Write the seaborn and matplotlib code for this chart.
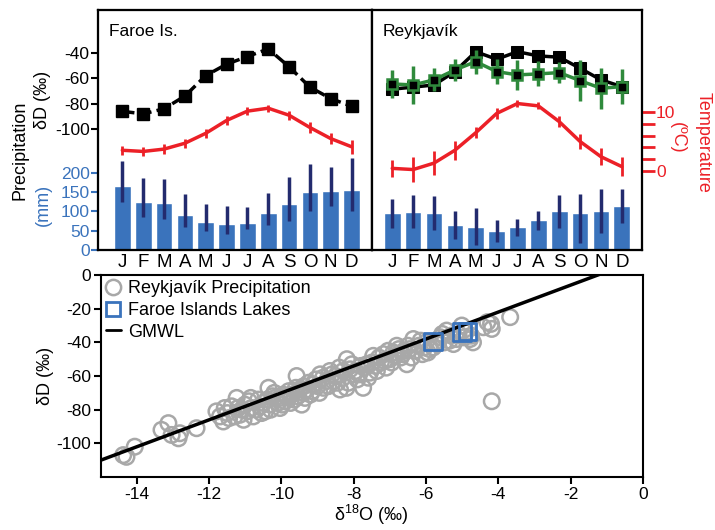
import numpy as np
import matplotlib
matplotlib.use('Agg')
import matplotlib.pyplot as plt
import seaborn as sns
from matplotlib.lines import Line2D

sns.set_theme(style='ticks')
plt.rcParams['font.family'] = ['Liberation Sans', 'DejaVu Sans']
plt.rcParams['axes.linewidth'] = 1.5
plt.rcParams['axes.unicode_minus'] = False
plt.rcParams['text.color'] = 'black'
plt.rcParams['axes.labelcolor'] = 'black'
plt.rcParams['xtick.color'] = 'black'
plt.rcParams['ytick.color'] = 'black'

# ---- data ----
months = ['J', 'F', 'M', 'A', 'M', 'J', 'J', 'A', 'S', 'O', 'N', 'D']
idx = np.arange(12)

faroe_dD = [-86, -88, -84, -74, -58, -49, -43, -37, -51, -67, -76, -82]
faroe_temp = [3.5, 3.3, 3.7, 4.7, 6.4, 8.6, 10.2, 10.7, 9.5, 7.4, 5.5, 4.1]
faroe_temp_err = [0.8, 0.8, 0.8, 0.8, 0.8, 0.8, 0.7, 0.6, 0.8, 0.9, 1.0, 1.2]
faroe_prcp = [166, 125, 122, 90, 73, 67, 71, 96, 120, 150, 152, 155]
faroe_prcp_lo = [125, 86, 80, 60, 49, 43, 54, 65, 76, 101, 115, 101]
faroe_prcp_hi = [230, 186, 184, 144, 119, 115, 112, 148, 188, 223, 215, 238]

rvk_dD = [-68.6, -67, -65.3, -54.8, -39.2, -45.1, -39.2, -42.5, -43.5, -52.2, -61.3, -66.6]
rvk_dD2 = [-64.5, -65.3, -61.3, -53.5, -47, -54.8, -57.4, -56.6, -55.6, -61.9, -67.9, -66.6]
rvk_dD2_err = [11, 14.6, 9, 8.5, 9.4, 9.8, 11.8, 9.8, 8.5, 16, 16.3, 13.6]
rvk_temp = [0.4, 0.2, 1.3, 3.5, 6.5, 9.8, 11.5, 11.1, 8.4, 5.0, 2.4, 0.7]
rvk_temp_err = [1.5, 2.1, 2.0, 1.6, 0.9, 1.0, 0.6, 0.6, 1.0, 1.2, 1.5, 1.6]
rvk_prcp = [96, 99, 96, 65, 60, 50, 60, 78, 102, 96, 102, 114]
rvk_prcp_lo = [56, 56, 52, 28, 13, 21, 36, 52, 56, 19, 45, 71]
rvk_prcp_hi = [131, 142, 140, 101, 108, 78, 80, 101, 142, 146, 157, 158]

rvk_d18O = [-14.38, -14.29, -14.06, -13.32, -13.13, -13.04, -12.85, -12.81, -12.35,
            -11.80, -11.61, -11.57, -11.5, -11.38, -11.3, -11.24, -11.15, -11.1, -11.01,
            -10.9, -10.83, -10.78, -10.7, -10.64, -10.5, -10.45, -10.36, -10.32, -10.25,
            -10.18, -10.1, -10.04, -9.95, -9.90, -9.8, -9.72, -9.65, -9.58, -9.5, -9.44,
            -9.38, -9.30, -9.2, -9.12, -9.05, -8.93, -8.84, -8.75, -8.66, -8.56, -8.5,
            -8.38, -8.29, -8.2, -8.19, -8.1, -8.01, -7.9, -7.8, -7.74, -7.64, -7.55,
            -7.46, -7.36, -7.25, -7.18, -7.1, -7.0, -6.9, -6.81, -6.7, -6.6, -6.53,
            -6.45, -6.35, -6.2, -6.1, -6.0, -5.9, -5.80, -5.6, -5.5, -5.43, -5.3,
            -5.24, -5.15, -5.01, -4.9, -4.78, -4.75, -4.41, -4.3, -4.18, -4.2, -3.67,
            -4.18,
            -11.7, -11.45, -11.2, -11.05, -10.95, -10.85, -10.6, -10.55, -10.4, -10.3,
            -10.2, -10.05, -9.98, -9.85, -9.75, -9.6, -9.55, -9.4, -9.35, -9.25,
            -9.15, -9.0, -8.95, -8.85, -8.7, -8.6, -8.45, -8.4, -8.3, -8.15,
            -8.05, -7.95, -7.85, -7.7, -7.6, -7.5, -7.4, -7.3, -7.15, -7.05,
            -6.95, -6.85, -6.75, -6.65, -6.5, -6.4, -6.3, -6.15, -6.05, -5.95,
            -5.7, -5.55, -5.35, -5.1, -4.95, -4.7]
rvk_dD_pts = [-107, -108, -102, -92, -88, -95, -97, -94, -91,
              -81, -87, -79, -82, -78, -84, -73, -83, -80, -77,
              -75, -79, -84, -80, -74, -76, -81, -67, -77, -72,
              -73, -76, -79, -71, -75, -69, -71, -74, -60, -68, -77,
              -66, -68, -71, -65, -62, -59, -67, -63, -57, -63, -60,
              -68, -57, -67, -50, -56, -59, -62, -54, -67, -53, -58,
              -48, -57, -52, -47, -55, -50, -46, -42, -49, -45, -53,
              -44, -38, -42, -47, -40, -44, -43, -37, -40, -33, -36,
              -41, -38, -30, -34, -38, -36, -31, -28, -32, -29, -25,
              -75,
              -84, -85, -79, -86, -81, -73, -78, -82, -74, -80,
              -70, -73, -77, -72, -76, -67, -72, -70, -73, -64,
              -69, -66, -70, -61, -66, -59, -64, -55, -61, -64,
              -53, -57, -59, -55, -61, -52, -54, -49, -51, -45,
              -52, -48, -44, -47, -42, -49, -45, -39, -43, -46,
              -41, -35, -39, -35, -37, -40]

lake_d18O = [-5.8, -5.0, -4.85]
lake_dD = [-39.5, -34.0, -33.5]

gmwl_x = [-15, 0]
gmwl_y = [-110, 10]

red = '#ec2027'
blue = '#3a73bc'
navy = '#232b6e'
green = '#2f8a3c'
gray = '#a8a8a8'

fig = plt.figure(figsize=(7.15, 5.3), dpi=100)


def top_panel(rect, xlim, prcp, lo, hi, temp, terr, title, left):
    ax_p = fig.add_axes(rect)
    sns.barplot(x=idx, y=prcp, ax=ax_p, color=blue, saturation=1, width=0.8,
                errorbar=None, native_scale=True)
    ax_p.vlines(idx, lo, hi, color=navy, lw=2.5, zorder=3)
    ax_p.set_ylim(0, 620)
    ax_p.set_xlim(*xlim)
    ax_p.set_xticks(idx)
    ax_p.set_xticklabels(months, fontsize=13.5)
    ax_p.tick_params(axis='x', length=0, pad=3)
    ax_p.set_xlabel('')
    ax_p.set_ylabel('')
    if left:
        ax_p.set_yticks([0, 50, 100, 150, 200])
        ax_p.tick_params(axis='y', colors=blue, labelsize=12.5, length=5, width=1.5, pad=1)
    else:
        ax_p.set_yticks([])

    ax_d = ax_p.twinx()
    ax_d.yaxis.tick_left()
    ax_d.set_ylim(-195, -6.5)
    if left:
        ax_d.set_yticks([-100, -80, -60, -40])
        ax_d.tick_params(axis='y', labelsize=12.5, length=5, width=1.5, pad=1)
    else:
        ax_d.set_yticks([])

    ax_t = ax_p.twinx()
    ax_t.set_ylim(-13.6, 27.5)
    ax_t.errorbar(idx, temp, yerr=terr, color=red, lw=2.5, elinewidth=2, capsize=0)
    if left:
        ax_t.set_yticks([])
    else:
        ax_t.set_yticks([0, 2, 4, 6, 8, 10])
        ax_t.set_yticklabels(['0', '', '', '', '', '10'])
        ax_t.tick_params(axis='y', colors=red, labelsize=12.5, length=9, width=2, pad=1)
    ax_p.text(0.04, 0.91, title, transform=ax_p.transAxes, fontsize=12.5,
              va='center', ha='left')
    for a in (ax_p, ax_d, ax_t):
        for s in a.spines.values():
            s.set_linewidth(1.5)
            s.set_color('black')
    return ax_p, ax_d, ax_t


axL = top_panel([0.137, 0.528, 0.383, 0.453], (-1.17, 11.97), faroe_prcp,
                faroe_prcp_lo, faroe_prcp_hi, faroe_temp, faroe_temp_err,
                'Faroe Is.', True)
axL[1].plot(idx, faroe_dD, color='black', lw=2.5, linestyle=(0, (3.5, 1.5)),
            marker='s', ms=8, mfc='black', mec='black')

axR = top_panel([0.520, 0.528, 0.378, 0.453], (-0.98, 11.97), rvk_prcp,
                rvk_prcp_lo, rvk_prcp_hi, rvk_temp, rvk_temp_err,
                'Reykjavík', False)
sns.lineplot(x=idx, y=rvk_dD, ax=axR[1], color='black', lw=2.5, marker='s',
             markersize=8, markeredgecolor='black')
axR[1].errorbar(idx, rvk_dD2, yerr=rvk_dD2_err, color=green, lw=2.5, elinewidth=2.5,
                capsize=0, marker='s', ms=7, mfc='black', mec=green, mew=1.8)

fig.text(0.028, 0.717, 'Precipitation', rotation=90, ha='center', va='center', fontsize=13)
fig.text(0.060, 0.812, 'δD (‰)', rotation=90, ha='center', va='center', fontsize=13)
fig.text(0.060, 0.613, '(mm)', rotation=90, ha='center', va='center', fontsize=13, color=blue)
fig.text(0.983, 0.732, 'Temperature', rotation=-90, ha='center', va='center', fontsize=13, color=red)
fig.text(0.948, 0.740, '(ºC)', rotation=-90, ha='center', va='center', fontsize=13, color=red)

# ---- bottom panel ----
ax3 = fig.add_axes([0.141, 0.1, 0.758, 0.381])
sns.scatterplot(x=rvk_d18O, y=rvk_dD_pts, ax=ax3, marker='o', s=125,
                facecolor='none', edgecolor=gray, linewidth=1.8, zorder=2)
sns.lineplot(x=gmwl_x, y=gmwl_y, ax=ax3, color='black', lw=2.5, zorder=3)
sns.scatterplot(x=lake_d18O, y=lake_dD, ax=ax3, marker='s', s=160,
                facecolor='none', edgecolor=blue, linewidth=2, zorder=4)
ax3.set_xlim(-15, 0)
ax3.set_ylim(-120, 0)
ax3.set_xticks([-14, -12, -10, -8, -6, -4, -2, 0])
ax3.set_yticks([-100, -80, -60, -40, -20, 0])
ax3.tick_params(labelsize=12.5, length=5, width=1.5, pad=2)
ax3.set_xlabel('δ$^{\\mathregular{18}}$O (‰)', fontsize=13, labelpad=1)
ax3.set_ylabel('δD (‰)', fontsize=13, labelpad=2)
for s in ax3.spines.values():
    s.set_linewidth(1.5)
    s.set_color('black')

handles = [
    Line2D([], [], ls='none', marker='o', ms=11, mfc='none', mec=gray, mew=1.8),
    Line2D([], [], ls='none', marker='s', ms=10, mfc='none', mec=blue, mew=2),
    Line2D([], [], color='black', lw=2),
]
ax3.legend(handles, ['Reykjavík Precipitation', 'Faroe Islands Lakes', 'GMWL'],
           loc='upper left', frameon=False, fontsize=13, handlelength=0.8,
           handletextpad=0.4, borderaxespad=0.1, labelspacing=0.25,
           borderpad=0.2)

fig.savefig('out.png', dpi=100)
